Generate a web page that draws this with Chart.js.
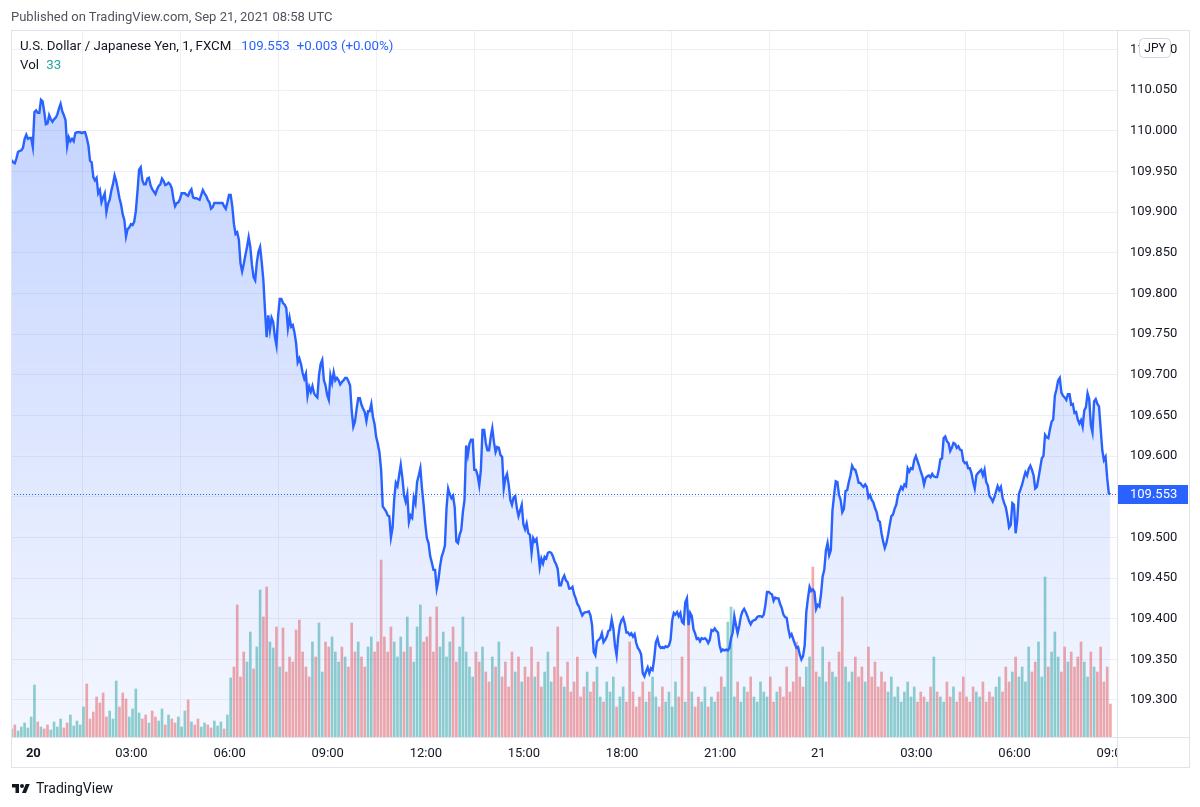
<!DOCTYPE html>
<html><head><meta charset="utf-8">
<script src="https://cdn.jsdelivr.net/npm/chart.js@4/dist/chart.umd.min.js"></script>
<style>
html,body{margin:0;padding:0;background:#fff;width:1200px;height:807px;overflow:hidden;font-family:Roboto,'Noto Sans',sans-serif;}
#wrap{position:relative;width:1200px;height:807px;}
canvas{position:absolute;left:0;top:0;}
.t{position:absolute;white-space:nowrap;line-height:18px;}
</style></head><body>
<div id="wrap">
<canvas id="c" width="1200" height="807"></canvas>
<div class="t" style="left:11px;top:8px;font-size:13px;color:#50535e">Published on TradingView.com, Sep 21, 2021 08:58 UTC</div>
<div class="t" style="left:20px;top:37px;font-size:13.3px;color:#131722"><span>U.S. Dollar / Japanese Yen, 1, FXCM</span><span style="color:#2962ff;margin-left:10px">109.553</span><span style="color:#2962ff;margin-left:7px">+0.003 (+0.00%)</span></div>
<div class="t" style="left:20px;top:56px;font-size:13.3px;color:#131722">Vol <span style="color:#26a69a;margin-left:4px">33</span></div>
<svg style="position:absolute;left:12px;top:782px" width="18" height="14" viewBox="0 0 36 28"><path d="M14 22H7V11H0V4h14v18zM28 22h-8l7.5-18h8L28 22z" fill="#131722"/><circle cx="20" cy="8" r="4" fill="#131722"/></svg>
<div class="t" style="left:36px;top:779px;font-size:14px;color:#131722">TradingView</div>
</div>
<script>
// ---- data ----
const startMinute = -40;      // minutes relative to Sep 20 00:00 UTC
const priceStepMinutes = 3;
const volumeStepMinutes = 6;
const prices = [
109.964,109.961,109.960,109.966,109.974,109.975,109.976,109.979,109.990,109.995,
109.990,109.991,109.991,109.980,110.023,110.025,110.022,110.022,110.038,110.036,
110.023,110.008,110.009,110.019,110.014,110.011,110.014,110.016,110.020,110.027,
110.033,110.024,110.019,110.013,109.981,109.992,109.987,109.990,109.987,109.997,
109.998,109.998,109.998,109.997,109.998,109.998,109.991,109.982,109.963,109.961,
109.943,109.939,109.942,109.923,109.927,109.912,109.918,109.923,109.900,109.910,
109.915,109.926,109.934,109.945,109.938,109.928,109.917,109.909,109.897,109.890,
109.870,109.879,109.881,109.885,109.884,109.888,109.901,109.925,109.952,109.955,
109.939,109.934,109.934,109.941,109.942,109.933,109.928,109.925,109.922,109.928,
109.932,109.934,109.941,109.938,109.933,109.934,109.936,109.934,109.929,109.916,
109.907,109.911,109.912,109.916,109.923,109.923,109.923,109.921,109.920,109.925,
109.928,109.918,109.917,109.917,109.916,109.915,109.921,109.927,109.923,109.920,
109.915,109.912,109.904,109.906,109.911,109.911,109.911,109.911,109.911,109.911,
109.907,109.904,109.912,109.921,109.921,109.907,109.885,109.873,109.875,109.866,
109.837,109.827,109.836,109.847,109.857,109.869,109.857,109.835,109.820,109.816,
109.838,109.851,109.857,109.838,109.816,109.779,109.746,109.773,109.755,109.770,
109.765,109.747,109.736,109.772,109.793,109.793,109.788,109.786,109.782,109.757,
109.770,109.759,109.761,109.752,109.739,109.715,109.720,109.713,109.702,109.695,
109.701,109.674,109.685,109.679,109.686,109.677,109.674,109.672,109.699,109.713,
109.718,109.693,109.687,109.675,109.669,109.699,109.690,109.703,109.693,109.696,
109.693,109.688,109.691,109.693,109.696,109.696,109.692,109.687,109.656,109.636,
109.642,109.658,109.671,109.671,109.663,109.658,109.654,109.643,109.655,109.655,
109.664,109.648,109.639,109.623,109.615,109.604,109.583,109.538,109.535,109.532,
109.527,109.526,109.500,109.512,109.547,109.567,109.563,109.576,109.589,109.573,
109.552,109.544,109.553,109.519,109.527,109.524,109.549,109.542,109.568,109.576,
109.585,109.560,109.540,109.517,109.499,109.493,109.477,109.469,109.460,109.460,
109.437,109.447,109.464,109.476,109.482,109.490,109.536,109.560,109.553,109.548,
109.551,109.537,109.495,109.493,109.503,109.509,109.531,109.546,109.613,109.601,
109.615,109.620,109.620,109.583,109.583,109.576,109.564,109.583,109.632,109.632,
109.616,109.607,109.607,109.623,109.634,109.617,109.605,109.611,109.610,109.601,
109.599,109.560,109.573,109.578,109.565,109.546,109.540,109.549,109.551,109.536,
109.526,109.533,109.540,109.516,109.510,109.517,109.505,109.503,109.481,109.499,
109.495,109.498,109.483,109.463,109.474,109.468,109.476,109.474,109.481,109.482,
109.481,109.477,109.471,109.467,109.461,109.441,109.441,109.449,109.453,109.447,
109.445,109.437,109.437,109.439,109.430,109.425,109.418,109.415,109.409,109.404,
109.407,109.408,109.408,109.409,109.404,109.392,109.359,109.355,109.372,109.374,
109.376,109.382,109.371,109.374,109.378,109.385,109.386,109.399,109.388,109.367,
109.355,109.378,109.392,109.398,109.401,109.394,109.383,109.383,109.380,109.382,
109.378,109.381,109.370,109.364,109.361,109.356,109.333,109.329,109.335,109.340,
109.333,109.339,109.337,109.351,109.371,109.376,109.367,109.364,109.365,109.364,
109.366,109.365,109.367,109.374,109.398,109.407,109.405,109.408,109.403,109.407,
109.396,109.394,109.420,109.425,109.392,109.407,109.403,109.387,109.382,109.375,
109.376,109.372,109.376,109.375,109.376,109.374,109.370,109.374,109.386,109.385,
109.388,109.385,109.383,109.367,109.360,109.362,109.361,109.362,109.361,109.364,
109.376,109.383,109.403,109.392,109.382,109.391,109.403,109.409,109.412,109.408,
109.403,109.397,109.393,109.397,109.398,109.399,109.402,109.403,109.403,109.402,
109.405,109.417,109.433,109.433,109.431,109.430,109.422,109.426,109.425,109.425,
109.418,109.413,109.405,109.402,109.401,109.388,109.378,109.381,109.375,109.369,
109.364,109.365,109.356,109.350,109.354,109.367,109.408,109.425,109.439,109.434,
109.436,109.433,109.412,109.417,109.415,109.430,109.452,109.460,109.484,109.493,
109.478,109.484,109.533,109.552,109.569,109.568,109.552,109.546,109.531,109.535,
109.557,109.558,109.568,109.576,109.588,109.584,109.583,109.576,109.567,109.567,
109.564,109.562,109.565,109.562,109.549,109.552,109.546,109.543,109.536,109.531,
109.521,109.519,109.505,109.495,109.487,109.493,109.503,109.515,109.526,109.528,
109.535,109.540,109.551,109.557,109.562,109.559,109.565,109.563,109.585,109.581,
109.585,109.584,109.595,109.600,109.594,109.588,109.581,109.575,109.565,109.573,
109.575,109.576,109.574,109.578,109.575,109.574,109.574,109.583,109.596,109.597,
109.622,109.624,109.618,109.616,109.606,109.610,109.616,109.615,109.610,109.612,
109.608,109.607,109.594,109.591,109.592,109.585,109.585,109.579,109.568,109.560,
109.576,109.579,109.581,109.583,109.576,109.583,109.568,109.564,109.551,109.548,
109.544,109.549,109.556,109.563,109.558,109.562,109.549,109.542,109.537,109.526,
109.512,109.515,109.542,109.540,109.505,109.521,109.553,109.559,109.565,109.573,
109.580,109.576,109.584,109.588,109.583,109.576,109.560,109.562,109.573,109.585,
109.597,109.600,109.626,109.623,109.622,109.633,109.642,109.645,109.674,109.682,
109.693,109.696,109.678,109.674,109.672,109.669,109.676,109.676,109.663,109.664,
109.653,109.654,109.645,109.640,109.644,109.636,109.656,109.660,109.677,109.670,
109.638,109.629,109.667,109.670,109.664,109.661,109.634,109.607,109.595,109.599,
109.573,109.554,109.553
];
const volumes = [
8,12,6,10,14,9,20,52,15,10,
8,12,7,15,10,18,9,14,22,11,
16,12,30,53,18,25,40,34,44,20,
26,18,56,30,44,38,20,28,48,24,
18,22,14,26,20,16,28,12,22,18,
14,20,10,26,37,15,12,18,10,14,
12,9,16,11,15,8,22,59,70,132,
60,85,75,105,68,90,147,120,150,95,
89,110,70,109,65,80,75,107,117,85,
70,60,95,80,114,65,95,90,100,85,
75,90,80,70,114,85,95,80,70,90,
100,85,95,177,100,85,110,95,80,100,
85,120,90,75,110,132,95,100,120,85,
130,90,105,80,95,110,75,90,120,85,
70,60,85,75,90,65,55,80,70,95,
60,75,50,85,65,80,55,70,60,90,
60,75,50,65,85,55,70,110,60,50,
75,45,55,80,40,50,65,45,55,70,
40,35,55,45,60,30,40,50,35,95,
45,30,40,55,35,45,60,40,30,50,
35,45,30,55,40,80,35,120,45,30,
40,35,50,30,40,35,45,60,50,115,
130,40,55,35,50,45,60,40,35,55,
45,40,60,35,45,50,40,70,45,55,
95,60,50,70,80,170,65,60,90,55,
75,65,60,85,140,70,55,65,80,60,
70,55,90,60,75,50,65,55,45,60,
40,50,35,45,55,40,50,35,45,40,
35,50,80,45,40,35,55,40,50,35,
45,60,40,35,50,45,40,55,35,45,
40,50,60,45,70,55,65,80,60,70,
55,90,65,75,95,60,160,70,85,105,
80,65,90,75,85,70,80,95,75,60,
85,70,65,90,55,70,33
];
const timeTicks  = [0,180,360,540,720,900,1080,1260,1440,1620,1800,1980];
const timeLabels = ['20','03:00','06:00','09:00','12:00','15:00','18:00','21:00','21','03:00','06:00','09:00'];
const priceTicks = [109.30,109.35,109.40,109.45,109.50,109.55,109.60,109.65,109.70,109.75,109.80,109.85,109.90,109.95,110.00,110.05,110.10];
const priceRange = [109.2545, 110.1238];
const timeRange = [-41, 1988];
const volumeRange = [0, 707];

// ---- build ----
const priceData = prices.map((p,i)=>({x:startMinute+i*priceStepMinutes, y:p}));
const volData = volumes.map((v,i)=>({x:startMinute+i*volumeStepMinutes, y:v}));
const ratio = volumeStepMinutes/priceStepMinutes;
const volColors = volumes.map((v,i)=>{
  const k = i*ratio;
  return (i>0 && prices[k] < prices[k-ratio]) ? 'rgba(239,83,80,0.5)' : 'rgba(38,166,154,0.5)';
});
const lastPrice = prices[prices.length-1];
const FONT = 'Roboto';

function areaGrad(c){
  const ch = c.chart; const a = ch.chartArea;
  if(!a) return 'rgba(41,98,255,0.15)';
  const g = ch.ctx.createLinearGradient(0, a.top+60, 0, a.bottom);
  g.addColorStop(0,'rgba(41,98,255,0.28)');
  g.addColorStop(1,'rgba(41,98,255,0.05)');
  return g;
}

const frame = {
  id:'frame',
  afterDatasetsDraw(chart){
    const {ctx, chartArea:a, scales} = chart;
    const y = Math.round(scales.y.getPixelForValue(lastPrice))+0.5;
    ctx.save();
    ctx.strokeStyle='#2962ff'; ctx.lineWidth=1; ctx.setLineDash([1,2]);
    ctx.beginPath(); ctx.moveTo(a.left,y); ctx.lineTo(a.right,y); ctx.stroke();
    ctx.restore();
  },
  afterDraw(chart){
    const {ctx, chartArea:a, scales} = chart;
    const W = chart.width;
    ctx.save();
    ctx.fillStyle='#fff';
    ctx.fillRect(a.right+1, a.bottom+1, W-10-a.right-1, 30);
    ctx.strokeStyle='#e0e3eb'; ctx.lineWidth=1;
    ctx.strokeRect(11.5, 30.5, W-10-11-1, 768-30-1);
    ctx.beginPath();
    ctx.moveTo(a.right+0.5, 30); ctx.lineTo(a.right+0.5, 768);
    ctx.moveTo(11, a.bottom+0.5); ctx.lineTo(W-10, a.bottom+0.5);
    ctx.stroke();
    const y = scales.y.getPixelForValue(lastPrice);
    ctx.fillStyle='#2962ff';
    ctx.fillRect(a.right+1, Math.round(y)-9, 70, 19);
    ctx.fillStyle='#fff'; ctx.font='13px '+FONT; ctx.textBaseline='middle'; ctx.textAlign='left';
    ctx.fillText(lastPrice.toFixed(3), a.right+13, Math.round(y)+1);
    const bx=a.right+22, by=38, bw=31, bh=19;
    ctx.beginPath();
    ctx.roundRect(bx+0.5, by+0.5, bw, bh, 4);
    ctx.fillStyle='#fff'; ctx.fill();
    ctx.strokeStyle='#d1d4dc'; ctx.stroke();
    ctx.fillStyle='#131722'; ctx.font='12px '+FONT; ctx.textAlign='center';
    ctx.fillText('JPY', bx+bw/2+0.5, by+bh/2+1);
    ctx.restore();
  }
};

new Chart(document.getElementById('c'), {
  type:'line',
  data:{datasets:[
    {type:'line', data:priceData, borderColor:'#2962ff', borderWidth:2.4, pointRadius:0, tension:0,
     fill:'start', backgroundColor:areaGrad, yAxisID:'y', order:0},
    {type:'bar', data:volData, backgroundColor:volColors, yAxisID:'yv', order:1,
     barThickness:2, borderWidth:0, grouped:false}
  ]},
  options:{
    responsive:false, animation:false, devicePixelRatio:1,
    layout:{padding:{left:11, top:30, right:10, bottom:39}},
    plugins:{legend:{display:false}, tooltip:{enabled:false}},
    scales:{
      x:{type:'linear', min:timeRange[0], max:timeRange[1], offset:false,
         afterBuildTicks(s){ s.ticks = timeTicks.map(v=>({value:v})); },
         afterFit(s){ s.height = 31; },
         grid:{color:'#eef0f5', drawTicks:false}, border:{display:false},
         ticks:{autoSkip:false, maxRotation:0, padding:9, color:'#131722',
           font:(c)=>({family:FONT, size:13, weight:(c.tick && c.tick.value===0)?'bold':'normal'}),
           callback:(v,i)=>timeLabels[i]}},
      y:{position:'right', min:priceRange[0], max:priceRange[1],
         afterBuildTicks(s){ s.ticks = priceTicks.map(v=>({value:v})); },
         afterFit(s){ s.width = 73; },
         grid:{color:'#eef0f5', drawTicks:false}, border:{display:false},
         ticks:{autoSkip:false, padding:13, color:'#131722', font:{family:FONT, size:13},
           callback:(v)=>Number(v).toFixed(3)}},
      yv:{display:false, min:volumeRange[0], max:volumeRange[1]}
    }
  },
  plugins:[frame]
});
</script>
</body></html>
